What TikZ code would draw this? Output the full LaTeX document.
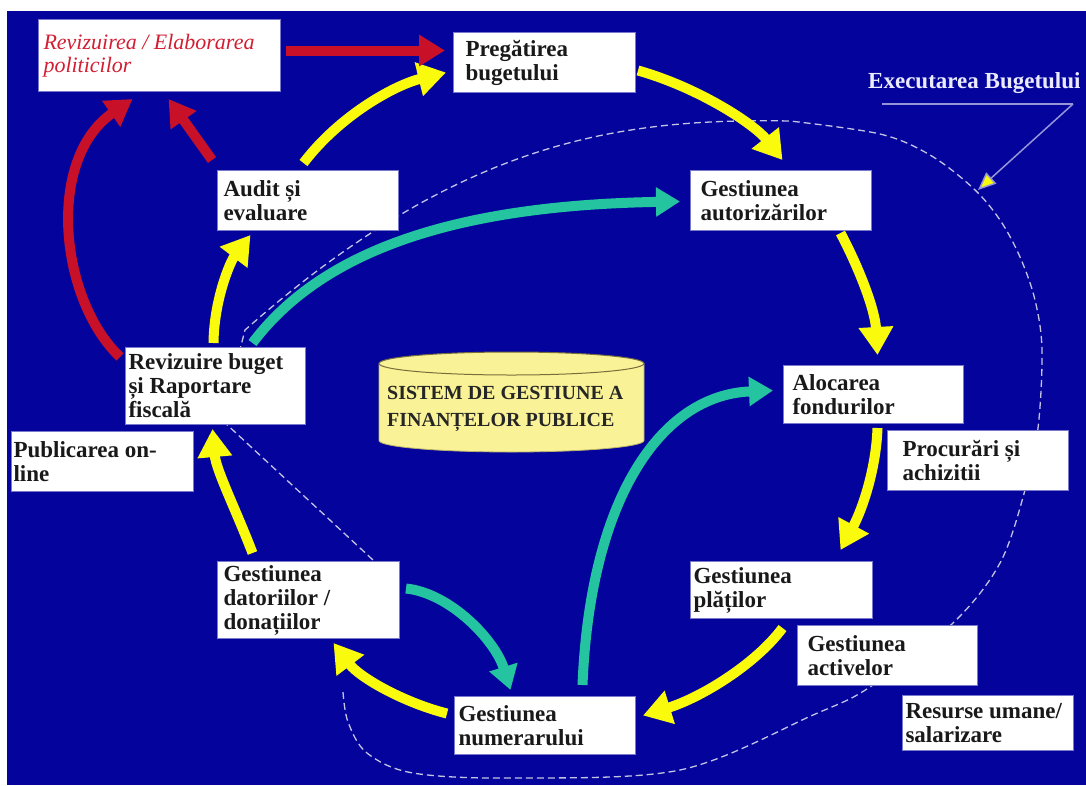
\documentclass[tikz,border=0pt]{standalone}
\usepackage{fontspec}
\setmainfont{Liberation Serif}
\usetikzlibrary{arrows.meta}
\pgfdeclarelayer{background}
\pgfsetlayers{background,main}
\definecolor{bgblue}{RGB}{4,4,156}
\definecolor{yel}{RGB}{250,250,12}
\definecolor{redc}{RGB}{200,16,40}
\definecolor{tealc}{RGB}{36,196,160}
\definecolor{boxline}{RGB}{120,120,205}
\definecolor{dashc}{RGB}{195,195,228}
\definecolor{redtext}{RGB}{210,30,50}
\definecolor{cylfill}{RGB}{250,242,150}
\definecolor{cylline}{RGB}{120,110,60}
\definecolor{thinc}{RGB}{150,150,215}
\begin{document}
\begin{tikzpicture}[x=1pt,y=-1pt,
  box/.style={draw=boxline, fill=white, line width=1pt, align=flush left, anchor=north west,
    inner ysep=0pt, text=black!90, font=\fontsize{23}{24}\selectfont\bfseries},
  yarrow/.style={draw=yel, line width=10pt, -{Triangle[width=33pt,length=28pt]}},
  rarrow/.style={draw=redc, line width=10pt, -{Triangle[width=30pt,length=26pt]}},
  tarrow/.style={draw=tealc, line width=10pt, -{Triangle[width=28pt,length=24pt]}},
  dashline/.style={draw=dashc, line width=1.3pt, dash pattern=on 7pt off 4pt},
  thinline/.style={draw=thinc, line width=1.5pt},
  exectext/.style={text=white!92!blue, font=\fontsize{23}{24}\selectfont\bfseries, inner sep=0pt},
  systext/.style={text=black!85, align=flush left, inner sep=0pt, font=\fontsize{20}{27}\selectfont\bfseries}]
\useasboundingbox (0,0) rectangle (1086,785);

% boxes
\node[box, minimum width=242pt, minimum height=72pt, inner xsep=5pt, text width=232pt,
  text=redtext, font=\fontsize{22}{23}\selectfont\itshape] (pol) at (38,19) {Revizuirea / Elaborarea\\politicilor};
\node[box, minimum width=182pt, minimum height=60pt, inner xsep=12pt, text width=158pt] (preg) at (453,32) {Pregătirea\\bugetului};
\node[box, minimum width=181pt, minimum height=60pt, inner xsep=6pt, text width=169pt] (audit) at (217,170) {Audit și\\evaluare};
\node[box, minimum width=181pt, minimum height=60pt, inner xsep=10pt, text width=161pt] (autor) at (690,170) {Gestiunea\\autorizărilor};
\node[box, minimum width=180pt, minimum height=77pt, inner xsep=3pt, text width=174pt] (rev) at (125,347) {Revizuire buget\\și Raportare\\fiscală};
\node[box, minimum width=180pt, minimum height=58pt, inner xsep=9pt, text width=162pt] (aloc) at (783,365) {Alocarea\\fondurilor};
\node[box, minimum width=182pt, minimum height=60pt, inner xsep=2pt, text width=178pt] (publ) at (11,431) {Publicarea on-\\line};
\node[box, minimum width=181pt, minimum height=60pt, inner xsep=15pt, text width=151pt] (proc) at (887,430) {Procurări și\\achizitii};
\node[box, minimum width=182pt, minimum height=77pt, inner xsep=6pt, text width=170pt] (dat) at (217,561) {Gestiunea\\datoriilor /\\donațiilor};
\node[box, minimum width=182pt, minimum height=57pt, inner xsep=3pt, text width=176pt] (plat) at (690,561) {Gestiunea\\plăților};
\node[box, minimum width=180pt, minimum height=60pt, inner xsep=10pt, text width=160pt] (activ) at (797,625) {Gestiunea\\activelor};
\node[box, minimum width=171pt, minimum height=55pt, inner xsep=3pt, text width=165pt] (resurse) at (902,695) {Resurse umane/\\salarizare};
\node[box, minimum width=181pt, minimum height=58pt, inner xsep=4pt, text width=173pt] (numer) at (454,696) {Gestiunea\\numerarului};

\begin{pgfonlayer}{background}
\fill[white] (0,0) rectangle (1086,785);
\fill[bgblue] (7,11) rectangle (1086,785);
\draw[dashline] plot[smooth, tension=0.55] coordinates {(343,692) (348,722) (367,753) (413,773) (513,778) (680,770) (813,715) (870,687) (953,623) (1000,563) (1025,490) (1038,428) (1042,350) (1035,300) (1020,257) (1000,220) (973,188) (930,155) (880,134) (790,121)}
  .. controls (620,118) and (460,140) .. (245,330) -- (222,420) -- (373,560);
\end{pgfonlayer}

% cylinder
\fill[cylfill] (379,440.5) arc[start angle=180, end angle=360, x radius=132.5pt, y radius=11.5pt]
  -- (644,363.5) arc[start angle=0, end angle=180, x radius=132.5pt, y radius=11.5pt] -- cycle;
\draw[cylline!50!cylfill, line width=0.8pt] (379,363.5) -- (379,440.5) arc[start angle=180, end angle=360, x radius=132.5pt, y radius=11.5pt] -- (644,363.5);
\draw[cylline, line width=1pt] (511.5,363.5) ellipse[x radius=132.5pt, y radius=11.5pt];
\node[systext, anchor=west] (sys) at (387,409) {SISTEM DE GESTIUNE A\\FINANȚELOR PUBLICE};

% yellow cycle
\draw[yarrow] ([shift={(-4.5pt,7pt)}]audit.north) .. controls (340,115) and (395,85) .. ([shift={(-7pt,-10pt)}]preg.west);
\draw[yarrow] ([shift={(2pt,-8pt)}]preg.east) .. controls (700,88) and (755,125) .. ([shift={(1.5pt,10pt)}]autor.north);
\draw[yarrow] ([shift={(59.5pt,-2pt)}]autor.south) .. controls (860,270) and (875,310) .. ([shift={(4pt,10pt)}]aloc.north);
\draw[yarrow] ([shift={(4pt,-4pt)}]aloc.south) .. controls (876,470) and (862,510) .. ([shift={(59pt,11pt)}]plat.north);
\draw[yarrow] ([shift={(1pt,-9pt)}]plat.south) .. controls (755,665) and (700,698) .. ([shift={(7pt,10pt)}]numer.east);
\draw[yarrow] ([shift={(-7pt,12pt)}]numer.west) .. controls (405,703) and (360,678) .. ([shift={(25pt,-4pt)}]dat.south);
\draw[yarrow] ([shift={(-56pt,8pt)}]dat.north) .. controls (236,510) and (216,470) .. ([shift={(-3pt,-4pt)}]rev.south);
\draw[yarrow] ([shift={(-2pt,4pt)}]rev.north) .. controls (214,300) and (230,262) .. ([shift={(-57.5pt,-4pt)}]audit.south);

% red arrows
\draw[rarrow] ([shift={(5pt,5pt)}]pol.east) -- ([shift={(-8pt,12pt)}]preg.west);
\draw[rarrow] ([shift={(-5pt,10pt)}]audit.north west) -- ([shift={(9pt,-7pt)}]pol.south);
\draw[rarrow] ([shift={(-5pt,-10pt)}]rev.north west) .. controls (60,300) and (45,160) .. ([shift={(-27pt,-7pt)}]pol.south);

% teal arrows
\draw[tarrow] ([shift={(37pt,4pt)}]rev.north) .. controls (330,240) and (480,205) .. ([shift={(-10pt,-1pt)}]autor.west);
\draw[tarrow] ([shift={(6pt,11.5pt)}]dat.east) .. controls (450,593) and (495,640) .. ([shift={(-34.5pt,6pt)}]numer.north);
\draw[tarrow] ([shift={(37.5pt,11pt)}]numer.north) .. controls (590,500) and (660,395) .. ([shift={(-10pt,4pt)}]aloc.west);

% Executarea Bugetului
\node[exectext, anchor=base west] (exec) at (868,88) {Executarea Bugetului};
\coordinate (ull) at (882,104);
\coordinate (ulr) at (1073,104);
\coordinate (execpt) at (978,190);
\draw[thinline] (ull) -- (ulr);
\draw[thinline, -{Triangle[width=15pt,length=18pt,fill=yel]}] (ulr) -- (execpt);
\end{tikzpicture}
\end{document}
